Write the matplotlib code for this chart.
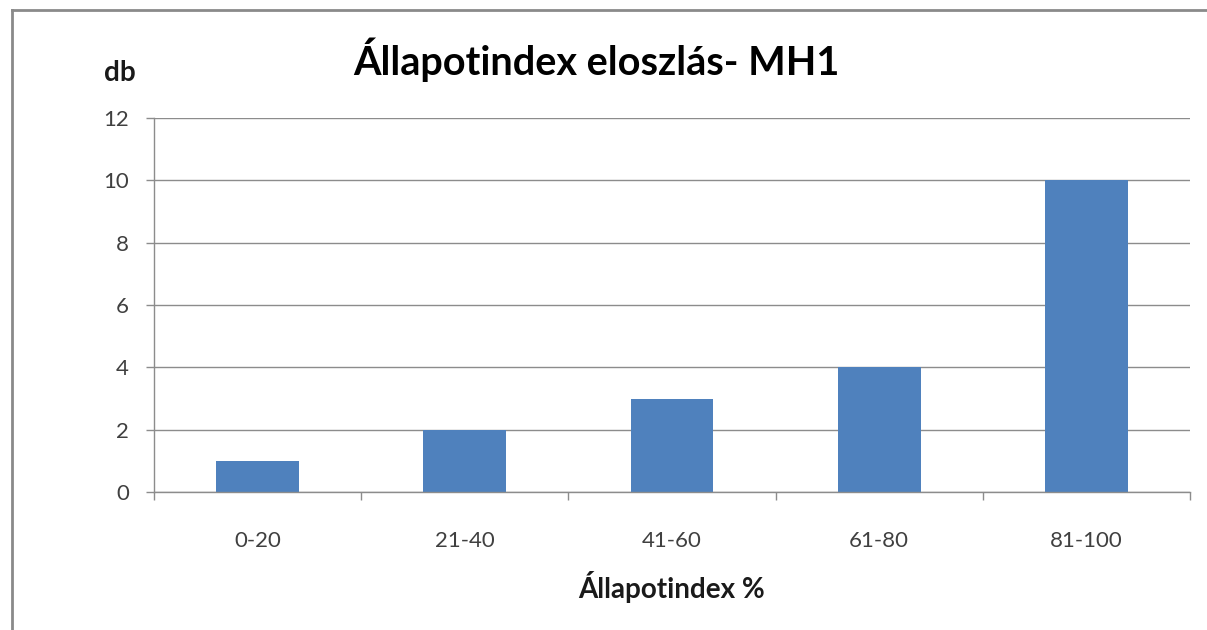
import matplotlib
matplotlib.use("Agg")
import matplotlib.pyplot as plt
from matplotlib.lines import Line2D
import numpy as np

categories = ["0-20", "21-40", "41-60", "61-80", "81-100"]
counts = [1, 2, 3, 4, 10]
y_ticks = [0, 2, 4, 6, 8, 10, 12]

plt.rcParams['font.family'] = ['Lato', 'DejaVu Sans']

W, H = 1207, 630
fig = plt.figure(figsize=(W / 100, H / 100), dpi=100)
fig.patch.set_facecolor('white')

ax = fig.add_axes([154 / W, 1 - 492 / H, (1190 - 154) / W, (492 - 118) / H])

grid_col = '#8c8c8c'
x = np.arange(len(categories))
ax.bar(x, counts, width=0.4, color='#4f81bd', zorder=3)

ax.set_xlim(-0.5, len(categories) - 0.5)
ax.set_ylim(0, 12)
ax.set_yticks(y_ticks)
ax.set_yticklabels([str(v) for v in y_ticks], fontsize=16, color='#404040')
ax.set_xticks(x)
ax.set_xticklabels(categories, fontsize=16, color='#404040')
ax.set_xticks(np.arange(len(categories) + 1) - 0.5, minor=True)

ax.tick_params(axis='x', which='major', length=0, pad=28)
ax.tick_params(axis='x', which='minor', length=6, color=grid_col, width=1)
ax.tick_params(axis='y', length=6, color=grid_col, width=1, pad=12)

ax.yaxis.grid(True, color=grid_col, linewidth=1, zorder=0)
for s in ['top', 'right']:
    ax.spines[s].set_visible(False)
for s in ['left', 'bottom']:
    ax.spines[s].set_color(grid_col)
    ax.spines[s].set_linewidth(1)
ax.spines['bottom'].set_zorder(4)

fig.text(596 / W, 1 - 75 / H, "Állapotindex eloszlás- MH1", fontsize=28.5,
         fontweight='bold', ha='center', va='baseline', color='black')
fig.text(120 / W, 1 - 81 / H, "db", fontsize=20, fontweight='bold',
         ha='center', va='baseline', color='#1a1a1a')
fig.text(672 / W, 1 - 598 / H, "Állapotindex %", fontsize=20, fontweight='bold',
         ha='center', va='baseline', color='#1a1a1a')

# outer frame of the chart area
fig.add_artist(Line2D([12 / W, 12 / W], [0, 1 - 10 / H], transform=fig.transFigure,
                      color='#8a8a8a', linewidth=2))
fig.add_artist(Line2D([12 / W, 1], [1 - 10 / H, 1 - 10 / H], transform=fig.transFigure,
                      color='#8a8a8a', linewidth=2))

fig.savefig("out.png", dpi=100, facecolor='white')
